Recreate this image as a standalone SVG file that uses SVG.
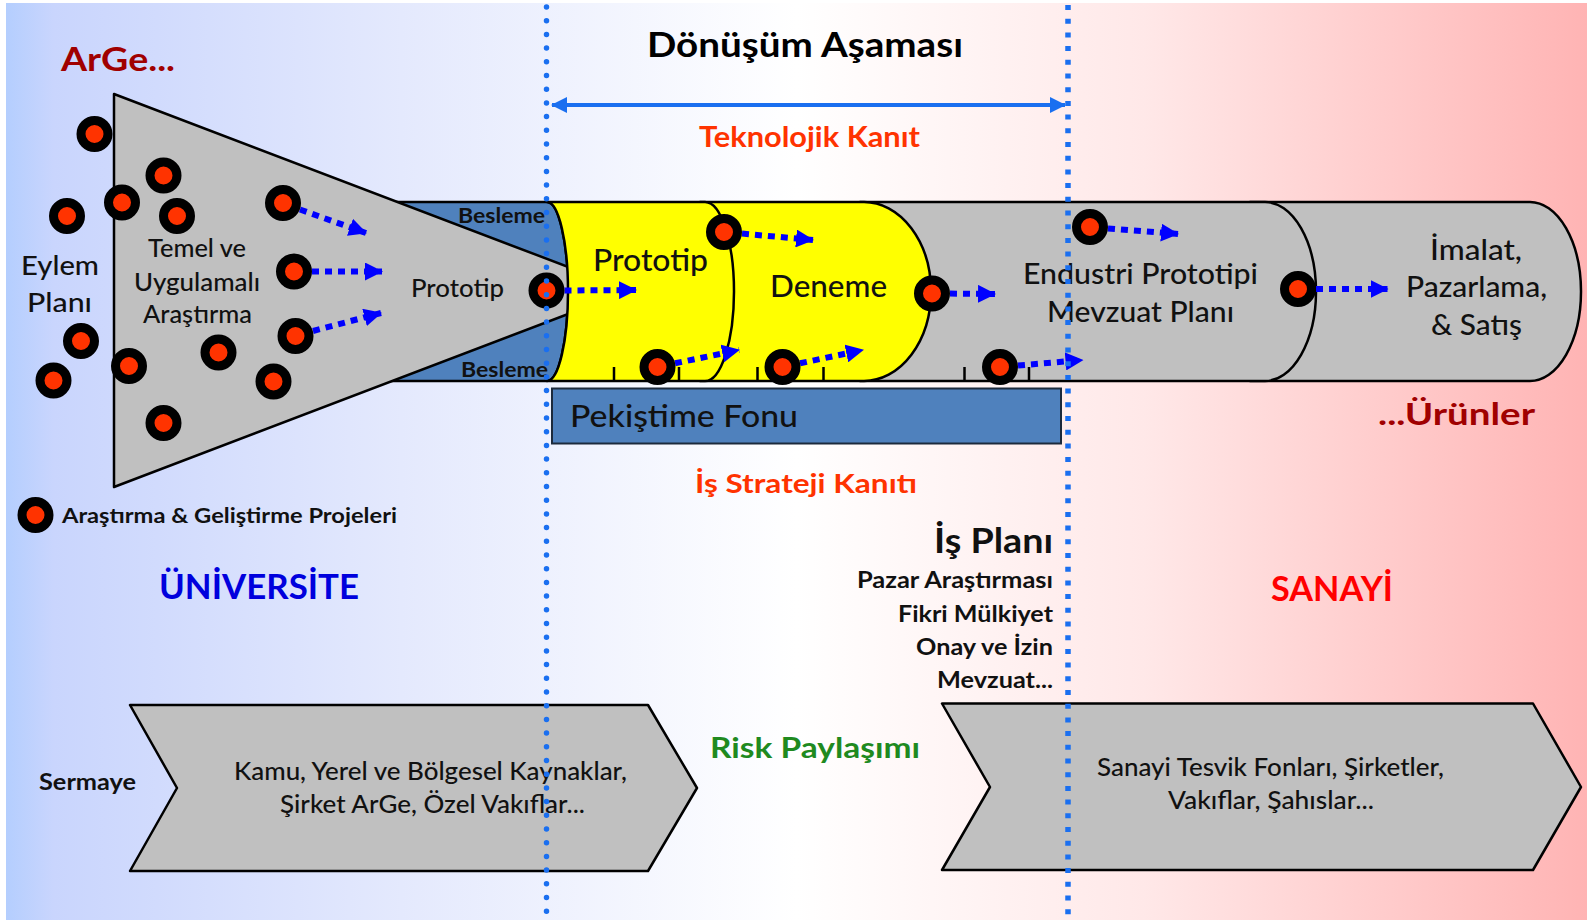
<svg xmlns="http://www.w3.org/2000/svg" width="1587" height="922" viewBox="0 0 1587 922">
<defs>
<linearGradient id="bg" x1="0" y1="0" x2="1" y2="0">
<stop offset="0" stop-color="#b4cefe"/>
<stop offset="0.03" stop-color="#c9d5fd"/>
<stop offset="0.25" stop-color="#e4e9fd"/>
<stop offset="0.5" stop-color="#ffffff"/>
<stop offset="0.72" stop-color="#ffe8e8"/>
<stop offset="1" stop-color="#ffb4b4"/>
</linearGradient>
<marker id="ah" viewBox="0 0 18 18" refX="17" refY="9" markerWidth="18" markerHeight="18" markerUnits="userSpaceOnUse" orient="auto">
<path d="M0,0 L18,9 L0,18 Z" fill="#0000ff"/>
</marker>
<marker id="dh" viewBox="0 0 16 16" refX="15" refY="8" markerWidth="16" markerHeight="16" markerUnits="userSpaceOnUse" orient="auto-start-reverse">
<path d="M0,0 L16,8 L0,16 Z" fill="#1a6ff0"/>
</marker>
<circle id="dot" r="13.5" fill="#ff3300" stroke="#000" stroke-width="9"/>
</defs>
<style>
.t{font-family:Lato,"Liberation Sans","DejaVu Sans",sans-serif;fill:#111;font-weight:500}
.b{font-weight:700}
.seg{stroke:#000;stroke-width:2.5;stroke-linejoin:round}
.grey{fill:#c0c0c0}
.yel{fill:#ffff00}
.arr{fill:none;stroke:#0000ff;stroke-width:6;stroke-dasharray:7 6}
.vline{fill:none;stroke:#1a6ff0;stroke-width:5.5}
</style>
<rect x="6" y="3" width="1581" height="917" fill="url(#bg)"/>

<g id="seg-imalat">
<path class="seg grey" d="M1250,202 H1530 A51,89.5 0 0 1 1530,381 H1250 Z"/>
</g>
<g id="seg-endustri">
<path class="seg grey" d="M860,202 H1265 A51,89.5 0 0 1 1265,381 H860 Z"/>
</g>
<g id="seg-deneme">
<path class="seg yel" d="M700,202 H864 A67,89.5 0 0 1 864,381 H700 Z"/>
</g>
<g id="seg-besleme">
<path class="seg" fill="#4f81bd" d="M380,202 H547 A21,89.5 0 0 1 547,381 H380 Z"/>
</g>
<g id="funnel">
<path class="seg grey" d="M114,94 L630,290.5 L114,487 Z"/>
</g>
<g id="seg-prototip">
<path class="seg yel" d="M547,202 H705 A29,89.5 0 0 1 705,381 H547 A21,89.5 0 0 0 547,202 Z"/>
</g>
<g id="ticks" stroke="#000" stroke-width="2.5" fill="none">
<path d="M614,367 V381 M679,367 V381 M757.5,367 V381 M823.5,367 V381 M964.5,367 V381 M1029,367 V381"/>
</g>
<g id="fund-box">
<rect x="552" y="388.5" width="509" height="55" fill="#4f81bd" stroke="#1c2a3c" stroke-width="2"/>
<text class="t" x="570" y="427" font-size="30" textLength="228" lengthAdjust="spacingAndGlyphs">Pekiştime Fonu</text>
</g>
<g id="chevron-left">
<path class="seg grey" stroke-width="3" d="M130,705 L648,705 L697,788 L648,871 L130,871 L177,788 Z"/>
<text class="t" x="234" y="780" font-size="25" textLength="393" lengthAdjust="spacingAndGlyphs">Kamu, Yerel ve Bölgesel Kaynaklar,</text>
<text class="t" x="280" y="813" font-size="25" textLength="305" lengthAdjust="spacingAndGlyphs">Şirket ArGe, Özel Vakıflar...</text>
</g>
<g id="chevron-right">
<path class="seg grey" stroke-width="3" d="M942,703.5 L1533,703.5 L1581,787 L1533,870 L942,870 L990,787 Z"/>
<text class="t" x="1097" y="776" font-size="25" textLength="347" lengthAdjust="spacingAndGlyphs">Sanayi Tesvik Fonları, Şirketler,</text>
<text class="t" x="1168" y="808.5" font-size="25" textLength="206" lengthAdjust="spacingAndGlyphs">Vakıflar, Şahıslar...</text>
</g>

<g id="connectors">
<path class="arr" marker-end="url(#ah)" d="M300,209.5 L366,233"/>
<path class="arr" marker-end="url(#ah)" d="M312,271.5 L382,271.5"/>
<path class="arr" marker-end="url(#ah)" d="M313,331 L381,313"/>
<path class="arr" marker-end="url(#ah)" d="M564.5,290.5 L636,290"/>
<path class="arr" marker-end="url(#ah)" d="M742,233.6 L813,240"/>
<path class="arr" marker-end="url(#ah)" d="M675,363.3 L739,350"/>
<path class="arr" marker-end="url(#ah)" d="M800,363.3 L863,350"/>
<path class="arr" marker-end="url(#ah)" d="M950,293.6 L995,294"/>
<path class="arr" marker-end="url(#ah)" d="M1018,365.5 L1082.5,360"/>
<path class="arr" marker-end="url(#ah)" d="M1108,228.4 L1178,234"/>
<path class="arr" marker-end="url(#ah)" d="M1316,289 L1387.5,289"/>
<path d="M552,105 L1065,105" fill="none" stroke="#1a6ff0" stroke-width="4" marker-start="url(#dh)" marker-end="url(#dh)"/>
</g>

<g id="projects">
<use href="#dot" x="94.5" y="134"/>
<use href="#dot" x="163.5" y="175.5"/>
<use href="#dot" x="122" y="202.5"/>
<use href="#dot" x="177" y="216"/>
<use href="#dot" x="67" y="216"/>
<use href="#dot" x="283" y="203"/>
<use href="#dot" x="294" y="271.5"/>
<use href="#dot" x="81" y="341"/>
<use href="#dot" x="295.5" y="336"/>
<use href="#dot" x="218.5" y="352.5"/>
<use href="#dot" x="129" y="366"/>
<use href="#dot" x="53.5" y="380.5"/>
<use href="#dot" x="273.5" y="381.5"/>
<use href="#dot" x="163.5" y="423"/>
<use href="#dot" x="546.5" y="290.5"/>
<use href="#dot" x="724" y="232"/>
<use href="#dot" x="657.5" y="367"/>
<use href="#dot" x="782.5" y="367"/>
<use href="#dot" x="932" y="293.5"/>
<use href="#dot" x="1090" y="227"/>
<use href="#dot" x="1000" y="367"/>
<use href="#dot" x="1298" y="289"/>
</g>

<g id="legend">
<use href="#dot" x="35.5" y="515"/>
<text class="t b" x="62" y="523" font-size="21" textLength="335" lengthAdjust="spacingAndGlyphs">Araştırma &amp; Geliştirme Projeleri</text>
</g>

<g id="labels">
<text class="t b" x="61" y="71" font-size="32" style="fill:#a00000" textLength="114" lengthAdjust="spacingAndGlyphs">ArGe...</text>
<text class="t b" x="647" y="57" font-size="35" style="fill:#000" textLength="316" lengthAdjust="spacingAndGlyphs">Dönüşüm Aşaması</text>
<text class="t b" x="699" y="147" font-size="28" style="fill:#ff3300" textLength="221" lengthAdjust="spacingAndGlyphs">Teknolojik Kanıt</text>
<text class="t" x="21" y="275" font-size="27" textLength="78" lengthAdjust="spacingAndGlyphs">Eylem</text>
<text class="t" x="27" y="312" font-size="27" textLength="65" lengthAdjust="spacingAndGlyphs">Planı</text>
<text class="t" x="148" y="257" font-size="25" textLength="98" lengthAdjust="spacingAndGlyphs">Temel ve</text>
<text class="t" x="134" y="290.5" font-size="25" textLength="126" lengthAdjust="spacingAndGlyphs">Uygulamalı</text>
<text class="t" x="143" y="323" font-size="25" textLength="109" lengthAdjust="spacingAndGlyphs">Araştırma</text>
<text class="t" x="411" y="297" font-size="25" textLength="93" lengthAdjust="spacingAndGlyphs">Prototip</text>
<text class="t b" x="458" y="223" font-size="21" textLength="87" lengthAdjust="spacingAndGlyphs">Besleme</text>
<text class="t b" x="461" y="377" font-size="21" textLength="87" lengthAdjust="spacingAndGlyphs">Besleme</text>
<text class="t" x="593" y="270.5" font-size="30" textLength="115" lengthAdjust="spacingAndGlyphs">Prototip</text>
<text class="t" x="770" y="297" font-size="30" textLength="117" lengthAdjust="spacingAndGlyphs">Deneme</text>
<text class="t" x="1023" y="284" font-size="28" textLength="235" lengthAdjust="spacingAndGlyphs">Endustri Prototipi</text>
<text class="t" x="1047" y="321.7" font-size="28" textLength="187" lengthAdjust="spacingAndGlyphs">Mevzuat Planı</text>
<text class="t" x="1430" y="260" font-size="28" textLength="92" lengthAdjust="spacingAndGlyphs">İmalat,</text>
<text class="t" x="1406" y="297" font-size="28" textLength="141" lengthAdjust="spacingAndGlyphs">Pazarlama,</text>
<text class="t" x="1431" y="335" font-size="28" textLength="91" lengthAdjust="spacingAndGlyphs">&amp; Satış</text>
<text class="t b" x="1378" y="425" font-size="31" style="fill:#a00000" textLength="157" lengthAdjust="spacingAndGlyphs">...Ürünler</text>
<text class="t b" x="159" y="599" font-size="34" style="fill:#0000dd" textLength="200" lengthAdjust="spacingAndGlyphs">ÜNİVERSİTE</text>
<text class="t b" x="1271" y="600.7" font-size="34" style="fill:#ff0000" textLength="122" lengthAdjust="spacingAndGlyphs">SANAYİ</text>
<text class="t b" x="695" y="493" font-size="26" style="fill:#ff3300" textLength="222" lengthAdjust="spacingAndGlyphs">İş Strateji Kanıtı</text>
<text class="t b" x="934" y="552.7" font-size="34" textLength="119" lengthAdjust="spacingAndGlyphs">İş Planı</text>
<text class="t b" x="857" y="588" font-size="23" textLength="196" lengthAdjust="spacingAndGlyphs">Pazar Araştırması</text>
<text class="t b" x="898" y="621.7" font-size="23" textLength="155" lengthAdjust="spacingAndGlyphs">Fikri Mülkiyet</text>
<text class="t b" x="916" y="655" font-size="23" textLength="137" lengthAdjust="spacingAndGlyphs">Onay ve İzin</text>
<text class="t b" x="937" y="688" font-size="23" textLength="116" lengthAdjust="spacingAndGlyphs">Mevzuat...</text>
<text class="t b" x="710" y="758" font-size="28" style="fill:#1f8a1f" textLength="210" lengthAdjust="spacingAndGlyphs">Risk Paylaşımı</text>
<text class="t b" x="39" y="790" font-size="23" textLength="97" lengthAdjust="spacingAndGlyphs">Sermaye</text>
</g>

<g id="phase-lines">
<path class="vline" stroke-linecap="round" stroke-dasharray="0 13.7" d="M546.5,7 V914"/>
<path class="vline" stroke-dasharray="5 8.7" d="M1068,5 V916"/>
</g>
</svg>
